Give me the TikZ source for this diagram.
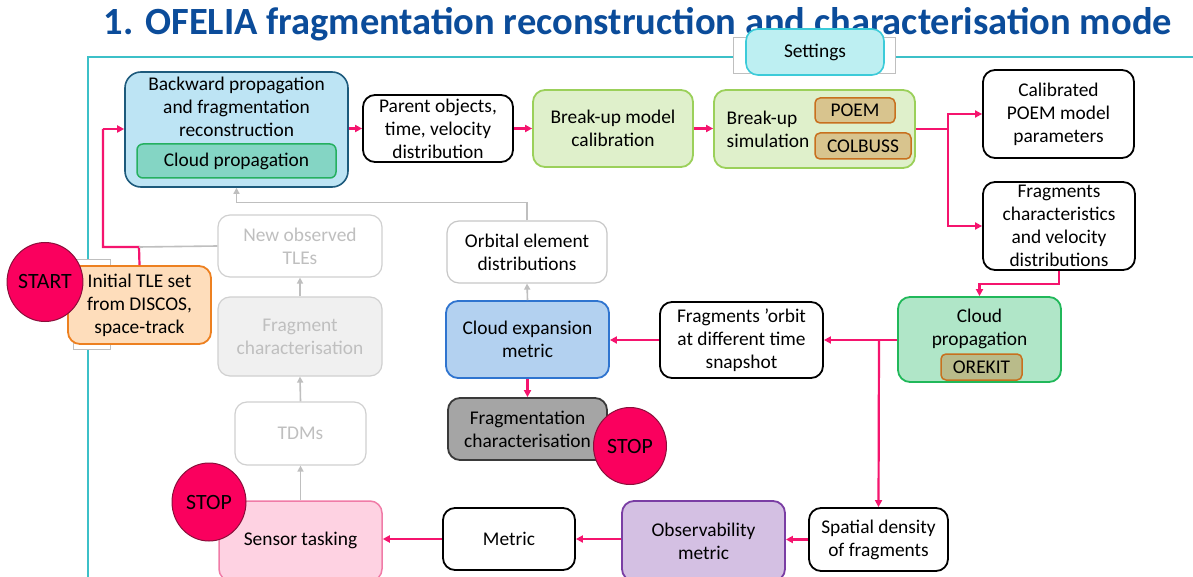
\documentclass[tikz,border=0pt]{standalone}
\usepackage{fontspec}
\setmainfont{Carlito}
\usetikzlibrary{arrows.meta, shapes.geometric}
\definecolor{titleblue}{HTML}{0B4C9A}
\definecolor{tealline}{HTML}{3CC0C8}
\definecolor{hotpink}{HTML}{F5146E}
\definecolor{stopred}{HTML}{FA005E}
\definecolor{stopedge}{HTML}{8A0F3A}
\definecolor{skyfill}{HTML}{BDE4F4}
\definecolor{skyedge}{HTML}{1D5A7C}
\definecolor{mintfill}{HTML}{84D5C4}
\definecolor{mintedge}{HTML}{25B060}
\definecolor{limefill}{HTML}{DFF0CB}
\definecolor{limeedge}{HTML}{9BD05A}
\definecolor{tanfill}{HTML}{D8C48E}
\definecolor{tanedge}{HTML}{C8701E}
\definecolor{cyanfill}{HTML}{BDEFF2}
\definecolor{cyanedge}{HTML}{3CCBD9}
\definecolor{jadefill}{HTML}{B0E6C8}
\definecolor{jadeedge}{HTML}{21B85A}
\definecolor{olivefill}{HTML}{B9BB8A}
\definecolor{bluefill}{HTML}{B3D1F0}
\definecolor{blueedge}{HTML}{2F74CF}
\definecolor{darkfill}{HTML}{A5A5A5}
\definecolor{darkedge}{HTML}{3A3A3A}
\definecolor{lilacfill}{HTML}{D4C0E3}
\definecolor{lilacedge}{HTML}{7A3EA4}
\definecolor{rosefill}{HTML}{FED2E2}
\definecolor{roseedge}{HTML}{F07BA7}
\definecolor{peachfill}{HTML}{FEDDBB}
\definecolor{peachedge}{HTML}{ED8020}
\definecolor{fadetext}{HTML}{BFBFBF}
\definecolor{fadeedge}{HTML}{D0D0D0}
\newcommand{\bodyfont}{\fontsize{19.4}{23}\selectfont}

\begin{document}
\begin{tikzpicture}[
    x=1pt, y=-1pt,
    every node/.style={font=\bodyfont, text=black, align=center, inner sep=0pt},
    sz/.style 2 args={minimum width=#1pt, minimum height=#2pt},
    box/.style={draw, rounded corners=12pt, line width=1.8pt},
    tag/.style={draw=tanedge, fill=tanfill, rounded corners=5pt, line width=1.5pt},
    faded/.style={box, draw=fadeedge, line width=1.2pt, text=fadetext},
    stopper/.style={ellipse, draw=stopedge, fill=stopred, line width=1pt, font=\fontsize{21.8}{24}\selectfont},
    flow/.style={draw=hotpink, line width=2.2pt, -{Triangle[length=7pt, width=7pt]}},
    link/.style={draw=hotpink, line width=2.2pt},
    ghost/.style={draw=fadetext, line width=1.6pt, -{Triangle[length=6pt, width=6pt]}},
  ]

  \clip (0,0) rectangle (1193,577);
  \fill[white] (0,0) rectangle (1193,577);

  % title and frame
  \node[font=\fontsize{38.5}{44}\selectfont\bfseries, text=titleblue, anchor=base]
    (title) at (638,35) {1. OFELIA fragmentation reconstruction and characterisation mode};
  \draw[tealline, line width=2.5pt] (88,577) -- (88,57) -- (1193,57);

  % settings
  \fill[white] (733,37) rectangle (895,73);
  \draw[black!25, line width=0.6pt] (733,37) rectangle (895,73);
  \node[box, draw=cyanedge, fill=cyanfill, sz={138}{46}, line width=1.6pt] (settings) at (815,52) {Settings};

  % top row
  \node[box, draw=skyedge, fill=skyfill, sz={223}{115}, rounded corners=16pt, line width=1.6pt]
    (backward) at (236.5,129.5) {};
  \node (backwardtxt) at (236.5,107) {Backward propagation\\and fragmentation\\reconstruction};
  \node[box, draw=mintedge, fill=mintfill, sz={199}{34}, rounded corners=6pt, line width=1.5pt]
    (cloudin) at (236.5,161) {Cloud propagation};
  \node[box, fill=white, sz={150}{67}] (parent) at (438,128.5) {Parent objects,\\time, velocity\\distribution};
  \node[box, draw=limeedge, fill=limefill, sz={160}{77}] (calib) at (613,128.5) {Break-up model\\calibration};
  \node[box, draw=limeedge, fill=limefill, sz={201}{78}] (sim) at (814.5,129) {};
  \node[align=left] (simtxt) at (768,129.5) {Break-up\\simulation};
  \node[tag, sz={80}{25}] (poem) at (855,110.5) {POEM};
  \node[tag, sz={96}{26}] (colbuss) at (863,146) {COLBUSS};
  \node[box, fill=white, sz={151}{88}] (calibrated) at (1058.5,114) {Calibrated\\POEM model\\parameters};
  \node[box, fill=white, sz={152}{88}] (fragchar) at (1059,226) {Fragments\\characteristics\\and velocity\\distributions};

  % middle row
  \node[box, draw=jadeedge, fill=jadefill, sz={163}{85}] (cloudprop) at (979.5,339.5) {};
  \node (cloudproptxt) at (979.5,329) {Cloud\\propagation};
  \node[tag, fill=olivefill, sz={81}{26}] (orekit) at (981.5,367) {OREKIT};
  \node[box, fill=white, sz={163}{76}] (orbit) at (741.5,340) {Fragments 'orbit\\at different time\\snapshot};
  \node[box, draw=blueedge, fill=bluefill, sz={163}{77}] (cloudexp) at (527.5,339.5) {Cloud expansion\\metric};
  \node[box, draw=black!22, fill=white, line width=1.2pt, sz={160}{62}] (orbital) at (527,252) {Orbital element\\distributions};
  \node[box, draw=darkedge, fill=darkfill, sz={159}{62}] (fragmentation) at (527.5,429) {Fragmentation\\characterisation};
  \node[stopper, sz={73}{77}] (stopmid) at (630,446) {STOP};

  % left column
  \node[faded, fill=white, sz={164}{62}] (newobs) at (300,246) {New observed\\TLEs};
  \node[faded, fill=black!6, sz={164}{79}] (fragment) at (300,336.5) {Fragment\\characterisation};
  \node[faded, fill=white, sz={131}{63}] (tdms) at (300.5,433.5) {TDMs};
  \fill[white] (73,259) rectangle (110,349);
  \draw[black!25, line width=0.6pt] (73,259) rectangle (110,349);
  \node[box, draw=peachedge, fill=peachfill, sz={143}{78}] (initial) at (139.5,305) {Initial TLE set\\from DISCOS,\\space-track};
  \node[stopper, sz={74}{79}] (start) at (45,282) {START};

  % bottom row
  \node[box, draw=roseedge, fill=rosefill, sz={163}{80}, line width=1.5pt] (sensor) at (300.5,541) {};
  \node (sensortxt) at (300.5,540) {Sensor tasking};
  \node[stopper, sz={74}{78}] (stopleft) at (209,502) {STOP};
  \node[box, fill=white, sz={132}{62}] (metric) at (509,539) {Metric};
  \node[box, draw=lilacedge, fill=lilacfill, sz={163}{80}] (observ) at (703.5,541) {Observability\\metric};
  \node[box, fill=white, sz={139}{63}] (spatial) at (878.5,539.5) {Spatial density\\of fragments};

  % pink connectors
  \coordinate (tlejoin) at (139,247);
  \coordinate (tleleft) at (103,129);
  \coordinate (simsplit) at (948,129);
  \coordinate (cpsplit) at (879,340);
  \draw[link] (initial.north) -- (tlejoin) -| (tleleft);
  \draw[flow] (tleleft) -- (backward.west |- tleleft);
  \draw[flow] (backward.east |- parent.west) -- (parent.west);
  \draw[flow] (parent.east) -- (calib.west);
  \draw[flow] (calib.east) -- (sim.west |- calib.east);
  \draw[link] (sim.east) -- (simsplit);
  \draw[flow] (simsplit) |- (calibrated.west);
  \draw[flow] (simsplit) |- (fragchar.west);
  \draw[flow] (fragchar.south) -- ++(0,13) -| (cloudprop.north);
  \draw[flow] (cloudprop.west |- orbit.east) -- (orbit.east);
  \draw[flow] (cpsplit) -- (spatial.north);
  \draw[flow] (orbit.west) -- (cloudexp.east |- orbit.west);
  \draw[flow] (cloudexp.south) -- (fragmentation.north);
  \draw[flow] (spatial.west) -- (observ.east |- spatial.west);
  \draw[flow] (observ.west |- metric.east) -- (metric.east);
  \draw[flow] (metric.west) -- (sensor.east |- metric.west);

  % grey connectors
  \draw[ghost] (cloudexp.north) -- (orbital.south);
  \draw[ghost] (orbital.north) -- ++(0,-18) -| (backward.south);
  \draw[ghost] (sensor.north) -- (tdms.south);
  \draw[ghost] (tdms.north) -- (fragment.south);
  \draw[ghost] (fragment.north) -- (newobs.south);
  \draw[draw=fadetext, line width=1.6pt] (newobs.west) -- (tlejoin);

\end{tikzpicture}
\end{document}
